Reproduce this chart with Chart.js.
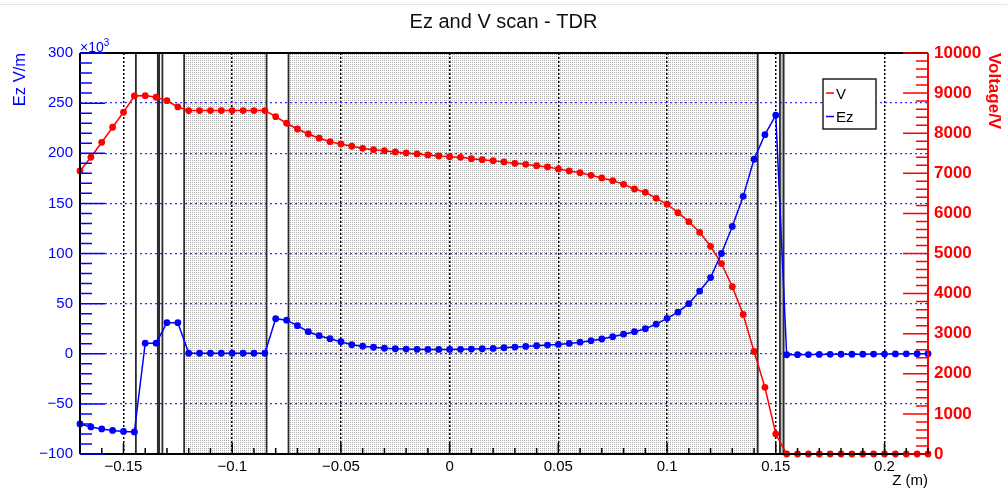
<!DOCTYPE html>
<html>
<head>
<meta charset="utf-8">
<script src="https://cdn.jsdelivr.net/npm/chart.js@4"></script>
<style>
  body { margin: 0; background: #fff; }
  #edge { position: absolute; left: 0; top: 4px; width: 1007px; height: 1px; background: #e3e3e3; }
  canvas { display: block; }
</style>
</head>
<body>
<div id="edge"></div>
<canvas id="chart" width="1007" height="493"></canvas>
<script>
// scan positions (m)
const zPos = [
  -0.17, -0.165, -0.16, -0.155, -0.15, -0.145, -0.14, -0.135, -0.13, -0.125,
  -0.12, -0.115, -0.11, -0.105, -0.1, -0.095, -0.09, -0.085, -0.08, -0.075,
  -0.07, -0.065, -0.06, -0.055, -0.05, -0.045, -0.04, -0.035, -0.03, -0.025,
  -0.02, -0.015, -0.01, -0.005, 0, 0.005, 0.01, 0.015, 0.02, 0.025,
  0.03, 0.035, 0.04, 0.045, 0.05, 0.055, 0.06, 0.065, 0.07, 0.075,
  0.08, 0.085, 0.09, 0.095, 0.1, 0.105, 0.11, 0.115, 0.12, 0.125,
  0.13, 0.135, 0.14, 0.145, 0.15, 0.155, 0.16, 0.165, 0.17, 0.175,
  0.18, 0.185, 0.19, 0.195, 0.2, 0.205, 0.21, 0.215, 0.22
];
// Ez in units of 10^3 V/m
const ezValues = [
  -70, -73, -75, -76.5, -77.5, -78, 10.5, 10.5, 31, 31,
  0.5, 0.5, 0.5, 0.5, 0.5, 0.5, 0.5, 0.5, 35, 33.5,
  28, 22, 18, 15, 12, 9, 7.5, 6.5, 5.5, 5,
  4.7, 4.4, 4.3, 4.3, 4.3, 4.4, 4.7, 5, 5.3, 6,
  6.7, 7.3, 8, 8.7, 9.3, 10.3, 11.5, 13, 14.7, 17,
  19.5, 22, 25, 29.5, 35.3, 41.5, 50, 62.5, 76, 100,
  127, 157, 194, 218.5, 238, -1, -0.9, -0.8, -0.7, -0.6,
  -0.5, -0.5, -0.4, -0.3, -0.3, -0.2, -0.1, 0, 0
];
// voltage in V
const vValues = [
  7058, 7400, 7773, 8148, 8522, 8929, 8937, 8896, 8812, 8654,
  8563, 8563, 8563, 8563, 8563, 8563, 8563, 8563, 8413, 8248,
  8105, 7980, 7875, 7789, 7731, 7674, 7624, 7590, 7565, 7532,
  7507, 7482, 7457, 7432, 7415, 7399, 7365, 7340, 7316, 7283,
  7250, 7225, 7191, 7160, 7108, 7058, 7016, 6950, 6884, 6817,
  6726, 6609, 6526, 6377, 6228, 6018, 5794, 5529, 5180, 4750,
  4173, 3480, 2556, 1663, 499, 0, 0, 0, 0, 0,
  0, 0, 0, 0, 0, 0, 0, 0, 0
];
const zTicks = [-0.15, -0.1, -0.05, 0, 0.05, 0.1, 0.15, 0.2];

// geometry of the scanned structure, in z (m)
const regionEdges = [-0.1443, -0.1342, -0.1336, -0.1321, -0.1221, -0.0842, -0.0741, 0.1417, 0.1519, 0.1536];
const dottedRanges = [[-0.1221, -0.0842], [-0.0741, 0.1417]];
const greyBands = [[0.1519, 0.1536]];

const FONT = "'Liberation Sans', Arial, Helvetica, sans-serif";
const BLUE = '#0000ff';
const RED = '#ff0000';

const dots = document.createElement('canvas');
dots.width = 2; dots.height = 2;
const dctx = dots.getContext('2d');
dctx.fillStyle = '#ababab';
dctx.fillRect(0, 0, 1, 1);

function fmt(v) {
  const n = Number(v.toFixed(3));
  return n < 0 ? '\u2212' + Math.abs(n) : String(n);
}

const decor = {
  id: 'decor',
  beforeDraw(chart) {
    const { ctx, chartArea: a, scales: { x } } = chart;
    ctx.save();
    ctx.fillStyle = ctx.createPattern(dots, 'repeat');
    dottedRanges.forEach(([z0, z1]) => {
      const p0 = x.getPixelForValue(z0), p1 = x.getPixelForValue(z1);
      ctx.fillRect(p0, a.top, p1 - p0, a.bottom - a.top);
    });
    ctx.fillStyle = '#c4c4c4';
    greyBands.forEach(([z0, z1]) => {
      const p0 = x.getPixelForValue(z0), p1 = x.getPixelForValue(z1);
      ctx.fillRect(p0, a.top, p1 - p0, a.bottom - a.top);
    });
    ctx.restore();
  },
  beforeDatasetsDraw(chart) {
    const { ctx, chartArea: a, scales: { x } } = chart;
    ctx.save();
    ctx.strokeStyle = '#2a2a2a';
    ctx.lineWidth = 1.8;
    regionEdges.forEach(z => {
      const p = x.getPixelForValue(z);
      ctx.beginPath();
      ctx.moveTo(p, a.top);
      ctx.lineTo(p, a.bottom);
      ctx.stroke();
    });
    ctx.restore();
  },
  afterDraw(chart) {
    const { ctx, chartArea: a, scales: { x, yE, yV } } = chart;
    ctx.save();

    // frame
    ctx.lineWidth = 2;
    ctx.strokeStyle = '#000';
    ctx.beginPath();
    ctx.moveTo(a.left, a.top); ctx.lineTo(a.right, a.top);
    ctx.moveTo(a.left, a.bottom); ctx.lineTo(a.right, a.bottom);
    ctx.moveTo(a.left, a.top); ctx.lineTo(a.left, a.bottom);
    ctx.stroke();
    ctx.strokeStyle = RED;
    ctx.beginPath();
    ctx.moveTo(a.right, a.top); ctx.lineTo(a.right, a.bottom + 1);
    ctx.stroke();

    // inward tick marks
    ctx.lineWidth = 1.5;
    ctx.strokeStyle = BLUE;
    ctx.beginPath();
    for (let i = -10; i <= 30; i++) {
      const p = yE.getPixelForValue(i * 10);
      const len = i % 5 === 0 ? 25 : 12;
      ctx.moveTo(a.left, p); ctx.lineTo(a.left + len, p);
    }
    ctx.stroke();
    ctx.strokeStyle = RED;
    ctx.beginPath();
    for (let i = 0; i <= 50; i++) {
      const p = yV.getPixelForValue(i * 200);
      const len = i % 5 === 0 ? 25 : 12;
      ctx.moveTo(a.right, p); ctx.lineTo(a.right - len, p);
    }
    ctx.stroke();
    ctx.strokeStyle = '#000';
    ctx.beginPath();
    for (let i = -17; i <= 22; i++) {
      const p = x.getPixelForValue(i / 100);
      const len = i % 5 === 0 ? 11 : 6;
      ctx.moveTo(p, a.bottom); ctx.lineTo(p, a.bottom - len);
    }
    ctx.stroke();

    // exponent label
    ctx.fillStyle = BLUE;
    ctx.textBaseline = 'alphabetic';
    ctx.textAlign = 'left';
    ctx.font = '14px ' + FONT;
    ctx.fillText('\u00d710', a.left, a.top - 1);
    const w = ctx.measureText('\u00d710').width;
    ctx.font = '10px ' + FONT;
    ctx.fillText('3', a.left + w, a.top - 7);

    // legend
    const lx = a.right - 105, ly = a.top + 26;
    ctx.fillStyle = '#fff';
    ctx.fillRect(lx, ly, 53, 50);
    ctx.strokeStyle = '#222';
    ctx.lineWidth = 1.5;
    ctx.strokeRect(lx, ly, 53, 50);
    ctx.font = '15px ' + FONT;
    ctx.lineWidth = 1.5;
    [chart.data.datasets[0], chart.data.datasets[1]].forEach((ds, i) => {
      const cy = ly + 14 + i * 23.5;
      ctx.strokeStyle = ds.borderColor;
      ctx.beginPath();
      ctx.moveTo(lx + 3, cy); ctx.lineTo(lx + 11, cy);
      ctx.stroke();
      ctx.fillStyle = '#000';
      ctx.fillText(ds.label, lx + 13, cy + 5.5);
    });
    ctx.restore();
  }
};

new Chart(document.getElementById('chart'), {
  type: 'line',
  data: {
    datasets: [
      {
        label: 'V',
        data: zPos.map((z, i) => ({ x: z, y: vValues[i] })),
        yAxisID: 'yV',
        borderColor: RED,
        backgroundColor: RED,
        borderWidth: 1.5,
        pointRadius: 3.4,
        pointBorderWidth: 0,
        clip: false,
        order: 1
      },
      {
        label: 'Ez',
        data: zPos.map((z, i) => ({ x: z, y: ezValues[i] })),
        yAxisID: 'yE',
        borderColor: BLUE,
        backgroundColor: BLUE,
        borderWidth: 1.5,
        pointRadius: 3.4,
        pointBorderWidth: 0,
        clip: false,
        order: 0
      }
    ]
  },
  options: {
    responsive: false,
    animation: false,
    devicePixelRatio: 1,
    layout: { padding: 0 },
    plugins: {
      legend: { display: false },
      tooltip: { enabled: false },
      title: {
        display: true,
        text: 'Ez and V scan - TDR',
        color: '#111',
        font: { family: FONT, size: 20, weight: 'normal' },
        padding: { top: 10, bottom: 19 }
      }
    },
    scales: {
      x: {
        type: 'linear',
        min: -0.17,
        max: 0.22,
        afterBuildTicks: s => { s.ticks = zTicks.map(v => ({ value: v })); },
        afterFit: s => { s.height = 39; },
        grid: { color: '#000', lineWidth: 1.5, drawTicks: false },
        border: { display: false, dash: [2, 2] },
        ticks: {
          color: '#000',
          padding: 4,
          maxRotation: 0,
          font: { family: FONT, size: 15 },
          callback: v => fmt(v)
        },
        title: {
          display: true,
          text: 'Z (m)',
          align: 'end',
          color: '#000',
          font: { family: FONT, size: 15 },
          padding: { top: 0, bottom: 3 }
        }
      },
      yE: {
        position: 'left',
        min: -100,
        max: 300,
        afterFit: s => { s.width = 80; },
        grid: { color: '#3030ff', lineWidth: 1.3, drawTicks: false },
        border: { display: false, dash: [2, 3] },
        ticks: {
          stepSize: 50,
          color: BLUE,
          padding: 7,
          font: { family: FONT, size: 15 },
          callback: v => fmt(v)
        },
        title: {
          display: true,
          text: 'Ez V/m',
          align: 'end',
          color: BLUE,
          font: { family: FONT, size: 16.5 },
          padding: { top: 11, bottom: 0 }
        }
      },
      yV: {
        position: 'right',
        min: 0,
        max: 10000,
        afterFit: s => { s.width = 79; },
        grid: { display: false, drawTicks: false },
        border: { display: false },
        ticks: {
          stepSize: 1000,
          color: RED,
          padding: 6,
          font: { family: FONT, size: 17, weight: 'bold' },
          callback: v => String(v)
        },
        title: {
          display: true,
          text: 'Voltage/V',
          align: 'end',
          color: RED,
          font: { family: FONT, size: 17, weight: 'bold' },
          padding: { top: 3, bottom: 0 }
        }
      }
    }
  },
  plugins: [decor]
});
</script>
</body>
</html>
